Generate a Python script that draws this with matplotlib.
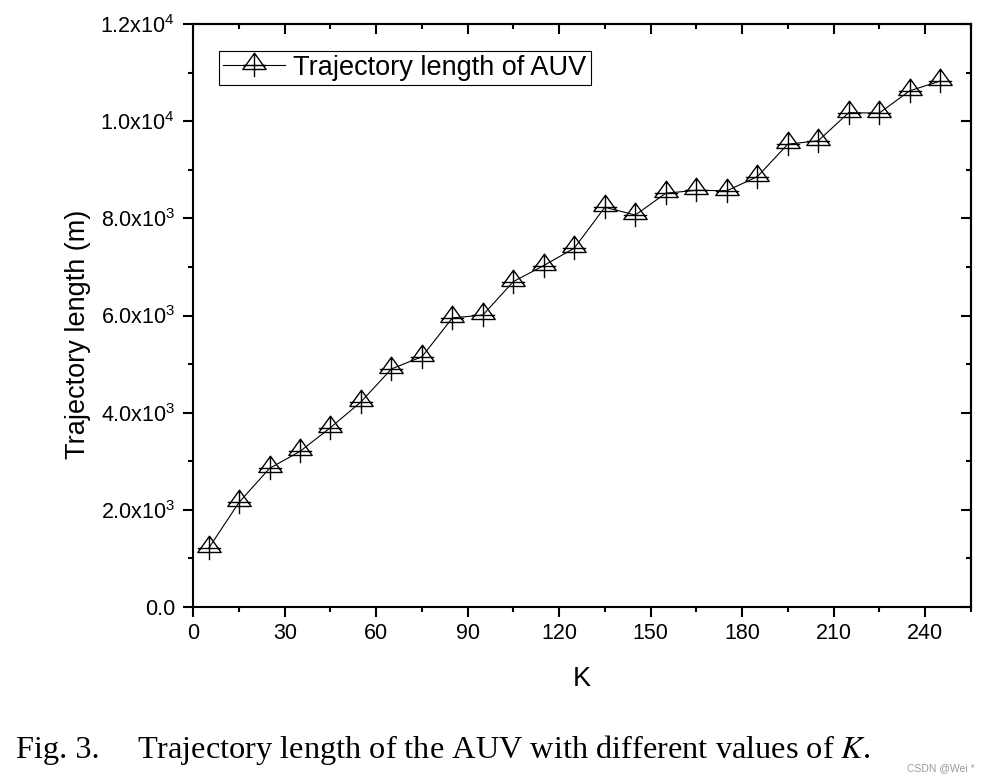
#!/usr/bin/env python

import numpy as np
import matplotlib
matplotlib.use('Agg')
import matplotlib.pyplot as plt
import matplotlib.ticker as plticker
from matplotlib.path import Path

# data
kValues    = [5, 15, 25, 35, 45, 55, 65, 75, 85, 95, 105, 115, 125,
              135, 145, 155, 165, 175, 185, 195, 205, 215, 225, 235, 245]
trajLength = [1200, 2150, 2850, 3200, 3690, 4220, 4900, 5150, 5950, 6010, 6700, 7030, 7390,
              8230, 8070, 8520, 8580, 8570, 8860, 9530, 9600, 10180, 10170, 10630, 10830]
xTicks     = [0, 30, 60, 90, 120, 150, 180, 210, 240]
yTicks     = [0, 2000, 4000, 6000, 8000, 10000, 12000]

LEGEND_LABEL = 'Trajectory length of AUV'
X_LABEL      = 'K'
Y_LABEL      = 'Trajectory length (m)'

WIDTH_PX  = 989
HEIGHT_PX = 781
DPI       = 100

TICK_SIZE    = 15.5
LABEL_SIZE   = 19.5
CAPTION_SIZE = 23.3
SPINE_W      = 1.5

plt.rcParams['font.family']       = ['Liberation Sans', 'DejaVu Sans']
plt.rcParams['mathtext.fontset']  = 'custom'
plt.rcParams['mathtext.rm']       = 'Liberation Sans'
plt.rcParams['mathtext.it']       = 'Liberation Sans:italic'


#
# Origin style marker: open triangle with a plus through it
#
def triangle_plus():
    verts = [(0, 12.3), (-11.7, -4.0), (11.7, -4.0), (0, 12.3),
             (-11.7, 0), (11.7, 0),
             (0, 11.7), (0, -11.7)]
    codes = [Path.MOVETO, Path.LINETO, Path.LINETO, Path.CLOSEPOLY,
             Path.MOVETO, Path.LINETO,
             Path.MOVETO, Path.LINETO]
    return Path(verts, codes)


#
# Tick label like 2.0x10^3
#
def sci_label(value, pos):
    if value == 0:
        return '0.0'
    exp  = int(np.floor(np.log10(abs(value))))
    mant = value / 10**exp
    return r'$\mathregular{%.1fx10^{%d}}$' % (mant, exp)


figure = plt.figure(figsize=(WIDTH_PX / DPI, HEIGHT_PX / DPI), dpi=DPI)
ax     = figure.add_axes([193.3 / WIDTH_PX, 1 - 606.7 / HEIGHT_PX,
                          (970.7 - 193.3) / WIDTH_PX, (606.7 - 24.3) / HEIGHT_PX])

marker = triangle_plus()
msize  = 2 * 12.3 * 72.0 / DPI

ax.plot(kValues, trajLength, color='black', linewidth=0.8,
        marker=marker, markersize=msize, markerfacecolor='none',
        markeredgecolor='black', markeredgewidth=1.0, label=LEGEND_LABEL)

ax.set_xlim(0, 255)
ax.set_ylim(0, 12000)
ax.set_xticks(xTicks)
ax.set_yticks(yTicks)
ax.xaxis.set_minor_locator(plticker.MultipleLocator(15))
ax.yaxis.set_minor_locator(plticker.MultipleLocator(1000))
ax.yaxis.set_major_formatter(plticker.FuncFormatter(sci_label))

ax.tick_params(which='both', direction='out', width=SPINE_W, labelsize=TICK_SIZE,
               top=False, right=False)
ax.tick_params(which='major', length=7.2)
ax.tick_params(which='minor', length=3.6)
ax.tick_params(axis='x', pad=4.5)
ax.tick_params(axis='y', pad=6)

for spine in ax.spines.values():
    spine.set_linewidth(SPINE_W)

# mirrored ticks on top and right point into the plot
top = ax.secondary_xaxis('top')
top.set_xticks(xTicks)
top.xaxis.set_minor_locator(plticker.MultipleLocator(15))
top.xaxis.set_major_formatter(plticker.NullFormatter())
top.tick_params(which='both', direction='in', width=SPINE_W)
top.tick_params(which='major', length=7.2)
top.tick_params(which='minor', length=3.6)
top.spines['top'].set_linewidth(SPINE_W)

right = ax.secondary_yaxis('right')
right.set_yticks(yTicks)
right.yaxis.set_minor_locator(plticker.MultipleLocator(1000))
right.yaxis.set_major_formatter(plticker.NullFormatter())
right.tick_params(which='both', direction='in', width=SPINE_W)
right.tick_params(which='major', length=7.2)
right.tick_params(which='minor', length=3.6)
right.spines['right'].set_linewidth(SPINE_W)

ax.set_xlabel(X_LABEL, fontsize=LABEL_SIZE)
ax.set_ylabel(Y_LABEL, fontsize=LABEL_SIZE)
ax.xaxis.set_label_coords(0.5, -0.102)
ax.yaxis.set_label_coords(-0.131, 0.467)

legend = ax.legend(loc='upper left', bbox_to_anchor=(0.0334, 0.9547), borderaxespad=0,
                   fontsize=LABEL_SIZE, fancybox=False, framealpha=1, edgecolor='black',
                   handlelength=2.26, handletextpad=0.33, borderpad=0.15)
legend.get_frame().set_linewidth(0.8)

# caption under the chart
capY = 1 - 758.3 / HEIGHT_PX
figure.text(16.0 / WIDTH_PX, capY, 'Fig. 3.', fontsize=CAPTION_SIZE, va='baseline',
            family=['Liberation Serif', 'DejaVu Serif'])
figure.text(137.0 / WIDTH_PX, capY,
            'Trajectory length of the AUV with different values of $K$.',
            fontsize=CAPTION_SIZE, va='baseline', family=['Liberation Serif', 'DejaVu Serif'],
            math_fontfamily='stix')

figure.text(907.0 / WIDTH_PX, 1 - 771.0 / HEIGHT_PX, 'CSDN @Wei *', fontsize=7.5,
            color='#9a9a9a', va='baseline')

figure.savefig('out.png', dpi=DPI)
plt.close(figure)
